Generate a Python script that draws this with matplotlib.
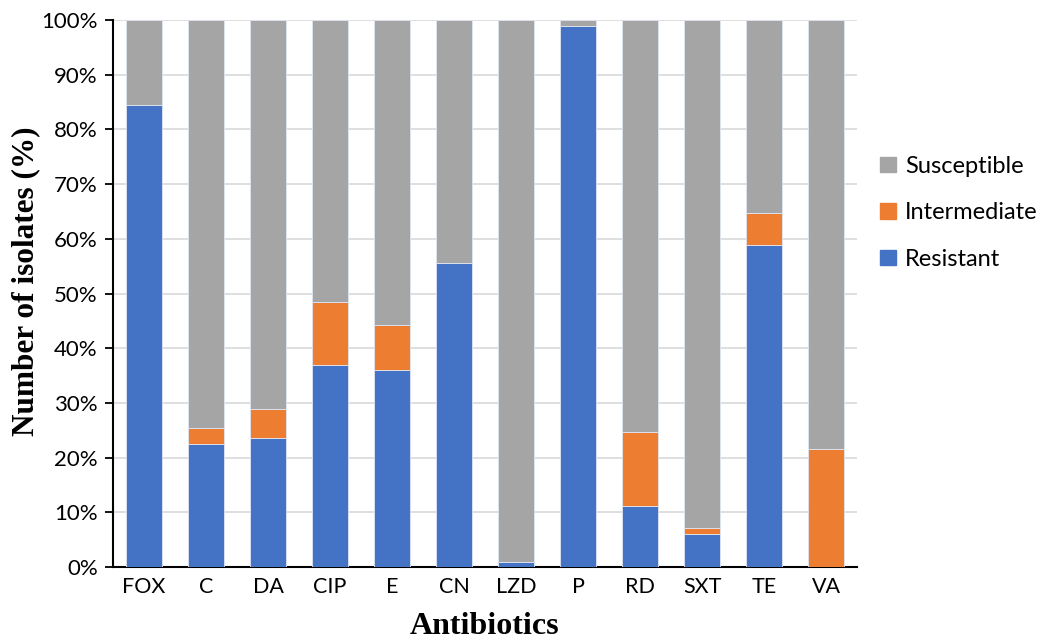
import matplotlib.pyplot as plt
import matplotlib.patches as mpatches
from matplotlib.ticker import FuncFormatter, MultipleLocator

antibiotics = ["FOX", "C", "DA", "CIP", "E", "CN", "LZD", "P", "RD", "SXT", "TE", "VA"]
resistant = [84.5, 22.5, 23.6, 37.0, 36.0, 55.6, 0.9, 98.9, 11.2, 6.1, 58.8, 0.0]
intermediate = [0.0, 3.0, 5.2, 11.4, 8.2, 0.0, 0.0, 0.0, 13.5, 1.0, 6.0, 21.5]
susceptible = [100 - r - i for r, i in zip(resistant, intermediate)]

BLUE = "#4472C4"
ORANGE = "#ED7D31"
GREY = "#A5A5A5"

plt.rcParams["font.family"] = ["Lato", "DejaVu Sans"]

fig = plt.figure(figsize=(10.4, 6.41), dpi=100)
ax = fig.add_axes([0.1087, 0.1154, 0.7154, 0.8534])

x = range(len(antibiotics))
width = 0.57
edge = dict(edgecolor="#dfe6f3", linewidth=0.6)
ax.bar(x, resistant, width, color=BLUE, zorder=3, **edge)
ax.bar(x, intermediate, width, bottom=resistant, color=ORANGE, zorder=3, **edge)
bottoms = [r + i for r, i in zip(resistant, intermediate)]
ax.bar(x, susceptible, width, bottom=bottoms, color=GREY, zorder=3, **edge)

ax.set_xlim(-0.5, len(antibiotics) - 0.5)
ax.set_ylim(0, 100)
ax.yaxis.set_major_locator(MultipleLocator(10))
ax.yaxis.set_major_formatter(FuncFormatter(lambda v, _: f"{v:.0f}%"))
ax.grid(axis="y", color="#d9d9d9", linewidth=1.2, zorder=0)

ax.set_xticks(list(x))
ax.set_xticklabels(antibiotics, fontsize=15.5)
ax.tick_params(axis="x", length=0, pad=7)
ax.tick_params(axis="y", labelsize=16, length=6, width=1.3, direction="out", pad=5)

for side in ("top", "right"):
    ax.spines[side].set_visible(False)
ax.spines["left"].set_linewidth(1.5)
ax.spines["bottom"].set_linewidth(1.5)

ax.set_xlabel("Antibiotics", fontsize=23, fontweight="bold",
              family="Liberation Serif", labelpad=11)
ax.set_ylabel("Number of isolates (%)", fontsize=22.5, fontweight="bold",
              family="Liberation Serif")
ax.yaxis.set_label_coords(-0.098, 0.522)

handles = [
    mpatches.Patch(color=GREY, label="Susceptible"),
    mpatches.Patch(color=ORANGE, label="Intermediate"),
    mpatches.Patch(color=BLUE, label="Resistant"),
]
fig.legend(handles=handles, loc="center left", bbox_to_anchor=(0.826, 0.668),
           frameon=False, fontsize=17, labelspacing=1.08,
           handlelength=0.65, handleheight=0.65, handletextpad=0.4)

fig.savefig("out.png", dpi=100)
